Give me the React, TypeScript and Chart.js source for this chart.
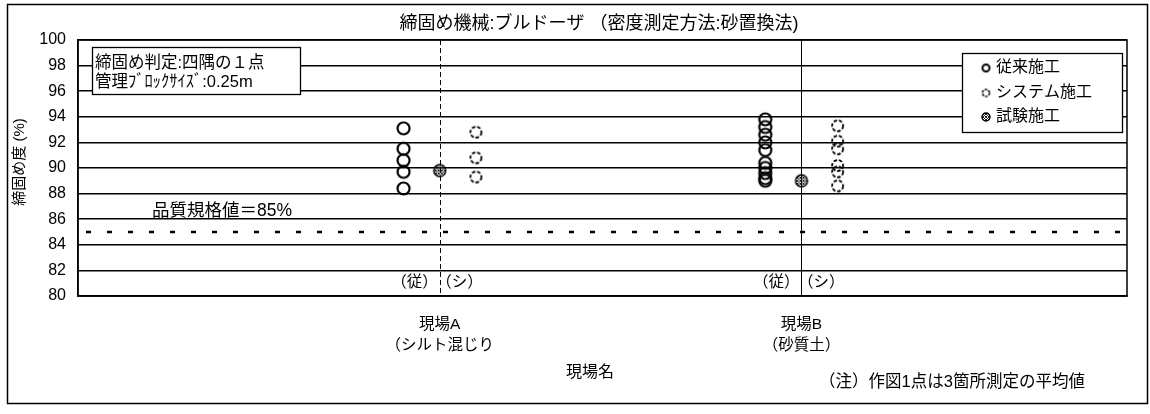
import React, { useEffect, useRef } from 'react';
import { Chart, registerables } from 'chart.js';

Chart.register(...registerables);

// ---------- data ----------
const chartTitle = '締固め機械:ブルドーザ （密度測定方法:砂置換法)';
const yAxisTitle = '締固め度 (%)';
const xAxisTitle = '現場名';
const siteLabels = [['現場A', '（シルト混じり'], ['現場B', '（砂質土）']];
const sitePositions = [1, 2];
const seriesNames = ['従来施工', 'システム施工', '試験施工'];
const conventionalValues = [
  [93.1, 91.5, 90.6, 89.7, 88.4],
  [93.8, 93.2, 92.6, 92.0, 91.4, 90.4, 90.0, 89.6, 89.2, 89.0],
];
const systemValues = [
  [92.8, 90.8, 89.3],
  [93.3, 92.1, 91.5, 90.2, 89.7, 88.6],
];
const trialValues = [[89.8], [89.0]];
const standardValue = 85;
const standardLabel = '品質規格値＝85%';
const noteLines = ['締固め判定:四隅の１点', '管理ﾌﾞﾛｯｸｻｲｽﾞ:0.25m'];
const footnote = '（注）作図1点は3箇所測定の平均値';
const groupTags = ['（従）', '（シ）'];
const yMin = 80;
const yMax = 100;
const yStep = 2;

// ---------- styles ----------
const FONT = '"Liberation Sans", "Noto Sans CJK JP", sans-serif';
const INK = '#000';
const groupOffsets = [-0.1, 0, 0.1]; // conventional, trial, system
const tagOffsets = [-0.07, 0.055];

function makeCircle(r: number, lw: number, dash: number[] | null) {
  const s = Math.ceil(2 * r + lw * 2 + 2);
  const c = document.createElement('canvas');
  c.width = s;
  c.height = s;
  const ctx = c.getContext('2d')!;
  ctx.strokeStyle = INK;
  ctx.lineWidth = lw;
  if (dash) ctx.setLineDash(dash);
  ctx.beginPath();
  ctx.arc(s / 2, s / 2, r, 0, Math.PI * 2);
  ctx.stroke();
  return c;
}

function makeHatched(r: number) {
  const s = Math.ceil(2 * r + 4);
  const c = document.createElement('canvas');
  c.width = s;
  c.height = s;
  const ctx = c.getContext('2d')!;
  const m = s / 2;
  ctx.save();
  ctx.beginPath();
  ctx.arc(m, m, r, 0, Math.PI * 2);
  ctx.clip();
  ctx.strokeStyle = '#222';
  ctx.lineWidth = 1;
  for (let k = -s; k <= s; k += 3) {
    ctx.beginPath();
    ctx.moveTo(k, 0);
    ctx.lineTo(k + s, s);
    ctx.stroke();
    ctx.beginPath();
    ctx.moveTo(k + s, 0);
    ctx.lineTo(k, s);
    ctx.stroke();
  }
  ctx.restore();
  ctx.strokeStyle = INK;
  ctx.lineWidth = 1.4;
  ctx.beginPath();
  ctx.arc(m, m, r, 0, Math.PI * 2);
  ctx.stroke();
  return c;
}

export default function App() {
  const ref = useRef<HTMLCanvasElement | null>(null);

  useEffect(() => {
    document.body.style.margin = '0';
    const convImg = makeCircle(6, 2.2, null);
    const sysImg = makeCircle(5.5, 1.8, [3.5, 1.8]);
    const trialImg = makeHatched(6);
    const convLegend = makeCircle(3.5, 2, null);
    const sysLegend = makeCircle(3.5, 1.6, [2.5, 1.2]);
    const trialLegend = makeHatched(4);

    const toPoints = (vals: number[][], off: number) =>
      vals.flatMap((arr, i) => arr.map((v) => ({ x: sitePositions[i] + off, y: v })));

    const overlay = {
      id: 'overlay',
      beforeDatasetsDraw(chart: any) {
        const { ctx, chartArea: a, scales } = chart;
        const xs = scales.x;
        ctx.save();
        sitePositions.forEach((p, i) => {
          const px = Math.round(xs.getPixelForValue(p)) + 0.5;
          ctx.strokeStyle = INK;
          ctx.lineWidth = 1;
          ctx.setLineDash(i === 0 ? [5, 3] : []);
          ctx.beginPath();
          ctx.moveTo(px, a.top);
          ctx.lineTo(px, a.bottom);
          ctx.stroke();
        });
        ctx.setLineDash([]);
        ctx.restore();
      },
      afterDraw(chart: any) {
        const { ctx, chartArea: a, scales } = chart;
        const xs = scales.x;
        const ys = scales.y;
        ctx.save();
        ctx.strokeStyle = INK;
        ctx.lineWidth = 1.5;
        ctx.strokeRect(a.left, a.top, a.right - a.left, a.bottom - a.top);
        ctx.strokeRect(7.5, 4.5, 1140, 399);

        ctx.fillStyle = '#000';
        ctx.textBaseline = 'middle';
        ctx.textAlign = 'center';
        ctx.font = `18px ${FONT}`;
        ctx.fillText(chartTitle, 599, 24);

        ctx.save();
        ctx.translate(20, 162);
        ctx.rotate(-Math.PI / 2);
        ctx.font = `15px ${FONT}`;
        ctx.fillText(yAxisTitle, 0, 0);
        ctx.restore();

        ctx.font = `16px ${FONT}`;
        ctx.fillText(xAxisTitle, 590, 373);

        ctx.font = `16.5px ${FONT}`;
        ctx.fillText(footnote, 952, 382);

        ctx.font = `15.5px ${FONT}`;
        sitePositions.forEach((p) => {
          groupTags.forEach((t, j) => {
            ctx.fillText(t, xs.getPixelForValue(p + tagOffsets[j]), ys.getPixelForValue(81.0));
          });
        });

        ctx.font = `17.5px ${FONT}`;
        ctx.textAlign = 'left';
        ctx.fillText(standardLabel, 152, ys.getPixelForValue(standardValue + 1.6));

        // note box
        ctx.fillStyle = '#fff';
        ctx.fillRect(92, 47, 208, 47);
        ctx.strokeStyle = INK;
        ctx.lineWidth = 1.3;
        ctx.strokeRect(92.5, 47.5, 208, 47);
        ctx.fillStyle = '#000';
        ctx.font = `16.5px ${FONT}`;
        ctx.fillText(noteLines[0], 95, 63);
        ctx.font = `16.5px ${FONT}`;
        ctx.fillText(noteLines[1], 95, 82);

        // legend box
        ctx.fillStyle = '#fff';
        ctx.fillRect(962, 53, 160, 79);
        ctx.strokeRect(962.5, 53.5, 160, 79);
        const imgs = [convLegend, sysLegend, trialLegend];
        const ly = [68, 93, 117];
        ctx.fillStyle = '#000';
        ctx.font = `16px ${FONT}`;
        seriesNames.forEach((n, i) => {
          const im = imgs[i];
          ctx.drawImage(im, 986 - im.width / 2, ly[i] - im.height / 2);
          ctx.fillText(n, 996, ly[i]);
        });
        ctx.restore();
      },
    };

    const chart = new Chart(ref.current!, {
      type: 'scatter',
      data: {
        datasets: [
          {
            type: 'line',
            label: 'standard',
            data: [
              { x: 0, y: standardValue },
              { x: 2.9, y: standardValue },
            ],
            borderColor: INK,
            borderWidth: 2.4,
            borderDash: [5, 16],
            borderDashOffset: 13,
            pointRadius: 0,
            fill: false,
          } as any,
          {
            label: seriesNames[0],
            data: toPoints(conventionalValues, groupOffsets[0]),
            pointStyle: convImg,
          },
          {
            label: seriesNames[1],
            data: toPoints(systemValues, groupOffsets[2]),
            pointStyle: sysImg,
          },
          {
            label: seriesNames[2],
            data: toPoints(trialValues, groupOffsets[1]),
            pointStyle: trialImg,
          },
        ],
      },
      options: {
        responsive: false,
        animation: false,
        devicePixelRatio: 1,
        layout: { padding: { left: 0, top: 40, right: 23, bottom: 0 } },
        plugins: {
          legend: { display: false },
          tooltip: { enabled: false },
          title: { display: false },
        },
        scales: {
          x: {
            type: 'linear',
            min: 0,
            max: 2.9,
            grid: { display: false, drawTicks: false },
            border: { display: true, color: INK, width: 1.5 },
            afterBuildTicks: (s: any) => {
              s.ticks = sitePositions.map((v) => ({ value: v }));
            },
            afterFit: (s: any) => {
              s.height = 118;
            },
            ticks: {
              autoSkip: false,
              maxRotation: 0,
              padding: 19,
              color: '#000',
              font: { family: FONT, size: 15.5, lineHeight: 1.3 },
              callback: (v: any) => {
                const i = sitePositions.indexOf(Number(v));
                return i >= 0 ? siteLabels[i] : '';
              },
            },
          },
          y: {
            min: yMin,
            max: yMax,
            grid: { color: INK, lineWidth: 1.5, drawTicks: false },
            border: { display: true, color: INK, width: 1.5 },
            afterFit: (s: any) => {
              s.width = 78;
            },
            ticks: {
              stepSize: yStep,
              padding: 12,
              color: '#000',
              font: { family: FONT, size: 16 },
            },
          },
        },
      },
      plugins: [overlay],
    } as any);
    return () => chart.destroy();
  }, []);

  return (
    <div style={{ width: 1150, height: 414, background: '#fff' }}>
      <canvas ref={ref} width={1150} height={414} />
    </div>
  );
}
